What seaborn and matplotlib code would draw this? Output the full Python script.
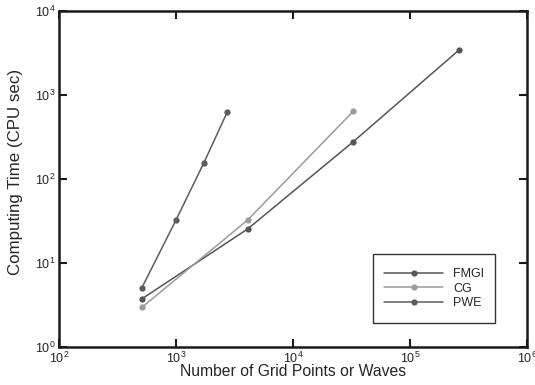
import matplotlib
matplotlib.use("Agg")
import matplotlib.pyplot as plt
import seaborn as sns
import pandas as pd
from matplotlib.patches import Rectangle
from matplotlib.ticker import LogLocator, NullLocator

# Data
fmgi_x = [512, 4096, 32768, 262144]
fmgi_y = [3.75, 25.4, 278, 3430]
cg_x = [512, 4096, 32768]
cg_y = [2.97, 32.5, 640]
pwe_x = [512, 1000, 1728, 2744]
pwe_y = [5.1, 32.5, 155, 628]
series = ["FMGI", "CG", "PWE"]
colors = {"FMGI": "#555555", "CG": "#9b9b9b", "PWE": "#5c5c5c"}

df = pd.concat([
    pd.DataFrame({"x": fmgi_x, "y": fmgi_y, "method": "FMGI"}),
    pd.DataFrame({"x": cg_x, "y": cg_y, "method": "CG"}),
    pd.DataFrame({"x": pwe_x, "y": pwe_y, "method": "PWE"}),
], ignore_index=True)

sns.set_style("ticks")
plt.rcParams['font.family'] = ['Liberation Sans', 'DejaVu Sans']
plt.rcParams['mathtext.fontset'] = 'custom'
plt.rcParams['mathtext.rm'] = 'Liberation Sans'
plt.rcParams['mathtext.it'] = 'Liberation Sans'

fig = plt.figure(figsize=(5.35, 3.85), dpi=100)
ax = fig.add_axes([59/535, 1-347/385, 468/535, 336/385])

sns.lineplot(data=df, x="x", y="y", hue="method", hue_order=series,
             palette=colors, marker="o", markersize=4.5, markeredgewidth=0,
             linewidth=1.1, sort=False, estimator=None, ax=ax)

ax.set_xscale("log")
ax.set_yscale("log")
ax.set_xlim(1e2, 1e6)
ax.set_ylim(1e0, 1e4)
ax.xaxis.set_major_locator(LogLocator(base=10, numticks=10))
ax.yaxis.set_major_locator(LogLocator(base=10, numticks=10))
ax.xaxis.set_minor_locator(NullLocator())
ax.yaxis.set_minor_locator(NullLocator())

for s in ax.spines.values():
    s.set_linewidth(1.8)
    s.set_color("#1a1a1a")
ax.tick_params(which="major", direction="in", length=6, width=1.5,
               top=True, right=True, labelsize=9, pad=2.5, color="#1a1a1a")

ax.set_xlabel("Number of Grid Points or Waves", fontsize=11.3, labelpad=-1)
ax.set_ylabel("Computing Time (CPU sec)", fontsize=12.2)
ax.yaxis.set_label_coords(-0.077, 0.52)

# legend box
ax.add_patch(Rectangle((0.671, 0.0714), 0.261, 0.205, transform=ax.transAxes,
                       fill=True, facecolor="white", edgecolor="#333333",
                       linewidth=1.0, zorder=4))
leg = ax.legend(loc="center", bbox_to_anchor=(0.8015, 0.174),
                fontsize=9, frameon=False,
                handlelength=4.7, labelspacing=0.2, borderpad=0.0,
                handletextpad=0.8, title=None)
leg.set_zorder(5)
for h in leg.legend_handles:
    h.set_markersize(4.5)

fig.savefig("out.png", dpi=100)
